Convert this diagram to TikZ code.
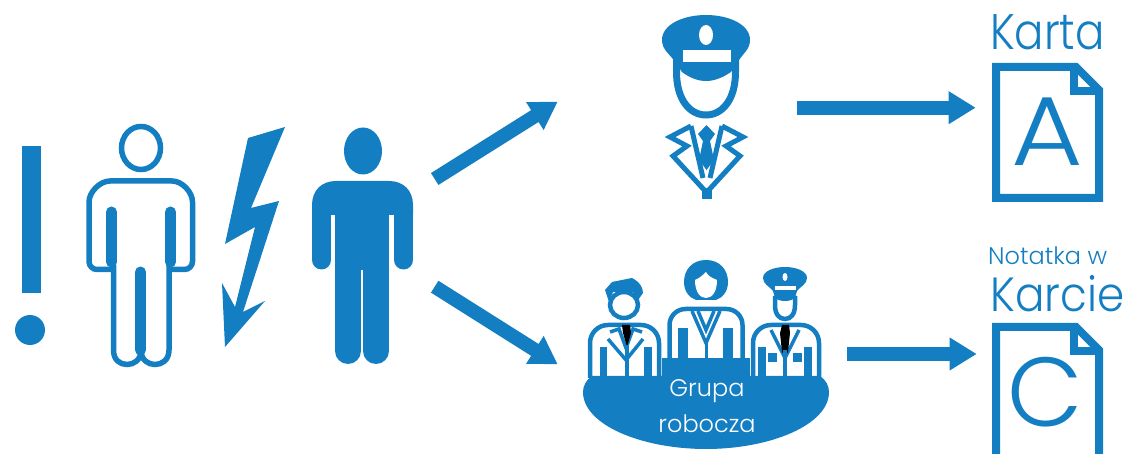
\documentclass[tikz,border=0pt]{standalone}
\usepackage{fontspec}
\setmainfont[UprightFont=* Light]{Poppins}
\usetikzlibrary{arrows.meta}
\definecolor{iconblue}{RGB}{20,126,194}
\tikzset{
  flow/.style={draw=iconblue,line width=14pt,-{Triangle[length=27pt,width=31pt]}},
  outline/.style={draw=iconblue,line width=#1,line join=miter},
  outline/.default=5.5pt,
  filled/.style={fill=iconblue,draw=none},
  bar/.style={draw=iconblue,line width=#1,line cap=round},
  title/.style={text=iconblue,anchor=base west,inner sep=0pt,font=\fontsize{#1}{#1}\selectfont},
  narrow/.style={xscale=#1,transform shape},
  letter/.style={text=iconblue,inner sep=0pt,font=\fontsize{98}{98}\selectfont},
  tablelabel/.style={text=white,anchor=base,inner sep=0pt,font=\fontsize{24}{24}\selectfont},
  docicon/.pic={
    \draw[outline=8pt] (996,67) -- (1076,67) -- (1099,90) -- (1099,198) -- (996,198) -- cycle;
    \draw[outline=8pt] (1074,67) -- (1074,91.5) -- (1099,91.5);
  }
}
\begin{document}
\begin{tikzpicture}[x=1pt,y=-1pt]
\clip (0,0) rectangle (1128,454);

% exclamation mark
\fill[filled] (22,146) rectangle (41,293);
\fill[filled] (30,330) circle (15);

% outlined man
\draw[outline] (141,148) ellipse [x radius=19.5,y radius=21.5];
\draw[outline,rounded corners=8pt] (113,269.5) -- (89,269.5) -- (89,210)
  .. controls (89,192) and (100,181) .. (118,181) -- (164,181)
  .. controls (182,181) and (192.5,192) .. (192.5,210) -- (192.5,269.5) -- (169,269.5);
\draw[outline] (113.5,265) -- (113.5,350) .. controls (113.5,360) and (120,364.5) .. (127,364.5)
  .. controls (134,364.5) and (141,360) .. (141,350) .. controls (141,360) and (148,364.5) .. (155,364.5)
  .. controls (162,364.5) and (169,360) .. (169,350) -- (169,265);
\draw[bar=11pt] (111.5,212) -- (111.5,262);
\draw[bar=11pt] (170.5,212) -- (170.5,262);
\draw[bar=11pt] (140.5,272) -- (140.5,350);

% lightning
\fill[filled] (285,127) -- (248,138) -- (225,244) -- (255,227) -- (235,307) -- (222,283)
  -- (225,347) -- (265,301) -- (243,312) -- (279,201) -- (251,208) -- cycle;

% filled man
\fill[filled] (363,151) ellipse [x radius=19,y radius=23.5];
\fill[filled] (312,215) -- (312,205) .. controls (312,190) and (322,181) .. (336,181) -- (389,181)
  .. controls (403,181) and (413,190) .. (413,205) -- (413,215) -- cycle;
\draw[bar=19pt] (321.5,210) -- (321.5,260);
\draw[bar=19pt] (403.5,210) -- (403.5,260);
\fill[filled] (335,200) rectangle (389,270);
\draw[bar=26pt] (348,260) -- (348,351);
\draw[bar=26pt] (376,260) -- (376,351);

% officer
\draw[outline=7pt] (676.5,60) -- (676.5,72) .. controls (676.5,100) and (690,115) .. (706,115)
  .. controls (722,115) and (735.5,100) .. (735.5,72) -- (735.5,60);
\fill[filled] (662,40) .. controls (662,24) and (684,15) .. (706,15) .. controls (728,15) and (750,24) .. (750,40)
  .. controls (750,50) and (742,54) .. (738,62) -- (731,72) .. controls (722,78) and (714,81) .. (706,81)
  .. controls (698,81) and (690,78) .. (682,72) -- (675,62) .. controls (670,54) and (662,50) .. (662,40) -- cycle;
\fill[white] (683,50) rectangle (731,62);
\fill[white] (706,35) ellipse [x radius=7,y radius=10];
\draw[outline=5pt] (691,126) -- (670,137) -- (687,146) -- (673,156) -- (707,193);
\draw[outline=5pt] (722,126) -- (743,137) -- (726,146) -- (740,156) -- (706,193);
\draw[outline=5pt] (691,126) -- (703,178);
\draw[outline=5pt] (722,126) -- (710,178);
\fill[filled] (706.5,125) -- (715,134) -- (710,141) -- (714,160) -- (706.5,170) -- (699,160) -- (703,141) -- (698,134) -- cycle;
\fill[filled] (702,188) rectangle (712,199);

% group: left person
\draw[outline=4.5pt] (624,305) ellipse [x radius=14,y radius=13];
\fill[filled] (605,290) -- (612,282) -- (632,278) .. controls (640,282) and (643,288) .. (643,293)
  -- (638,300) -- (633,292) -- (613,292) -- (609,302) -- cycle;
\draw[outline=4.5pt,rounded corners=18pt] (590,378) -- (590,325) -- (659,325) -- (659,378);
\draw[outline=3.5pt] (608,339) -- (626,360) -- (643,339);
\draw[outline=3.5pt] (610,332) -- (619,329) -- (626,348) -- (633,329) -- (642,332);
\fill[black] (622,325) -- (630,325) -- (631,333) -- (627,347) -- (623,333) -- cycle;
\fill[filled] (600,347) rectangle (607,378);
\fill[filled] (644,347) rectangle (652,378);
\fill[filled] (625,345) rectangle (629,378);

% group: middle person
\fill[filled] (706,260) .. controls (720,260) and (728,270) .. (728,282) .. controls (728,292) and (722,298) .. (716,300)
  -- (696,300) .. controls (690,298) and (684,292) .. (684,282) .. controls (684,270) and (692,260) .. (706,260) -- cycle;
\fill[white] (695,280) .. controls (700,278) and (704,274) .. (706,272) .. controls (708,276) and (712,278) .. (717,280)
  .. controls (717,292) and (712,298) .. (706,298) .. controls (700,298) and (695,292) .. (695,280) -- cycle;
\draw[outline=4.5pt,rounded corners=16pt] (669.5,362) -- (669.5,309) -- (742.5,309) -- (742.5,362);
\draw[outline=3.5pt] (692,311) -- (706,343) -- (720,311);
\draw[outline=3.5pt] (698,311) -- (706,330) -- (714,311);
\fill[filled] (704.5,340) rectangle (707.5,362);
\fill[filled] (678,328) rectangle (688,362);
\fill[filled] (723,328) rectangle (733,362);
\fill[filled] (662,358) rectangle (750,380);

% group: right person
\draw[outline=4.5pt] (775,296) -- (775,305) .. controls (775,314) and (779,319) .. (785,319)
  .. controls (791,319) and (795,314) .. (795,305) -- (795,296);
\fill[filled] (763,278) .. controls (763,271) and (774,267) .. (785,267) .. controls (796,267) and (807,271) .. (807,278)
  .. controls (807,284) and (801,286) .. (797,291) -- (795,298) .. controls (790,302) and (780,302) .. (775,298)
  -- (773,291) .. controls (769,286) and (763,284) .. (763,278) -- cycle;
\fill[white] (775,286) rectangle (796,290);
\fill[white] (785,277) ellipse [x radius=2.5,y radius=4];
\draw[outline=4.5pt,rounded corners=18pt] (753,378) -- (753,325) -- (819,325) -- (819,378);
\draw[outline=3.5pt] (771,330) -- (785,358) -- (799,330);
\fill[black] (782,325) -- (789,325) -- (790,333) -- (788,352) -- (785,356) -- (782,352) -- (780,333) -- cycle;
\fill[filled] (758,347) rectangle (766,378);
\fill[filled] (804,347) rectangle (812,378);
\fill[filled] (783,350) rectangle (787,378);
\fill[filled] (768,353) rectangle (777,362);
\fill[filled] (793,353) rectangle (802,362);

% table
\fill[filled] (592,376) -- (820,376) .. controls (826,380) and (829,386) .. (829,392)
  .. controls (829,425) and (770,449) .. (706,449) .. controls (642,449) and (583,425) .. (583,392)
  .. controls (583,386) and (586,380) .. (592,376) -- cycle;
\node[tablelabel] (grupa) at (707,397) {Grupa};
\node[tablelabel] (robocza) at (707,432) {robocza};

% documents
\pic {docicon};
\pic[yshift=-260pt] {docicon};
\node[letter,narrow=1.12] (lettera) at (1047,132) {A};
\node[letter] (letterc) at (1045,392) {C};
\node[title=50,narrow=.87] (karta) at (990,50) {Karta};
\node[title=24] (notatka) at (988,265) {Notatka w};
\node[title=48,narrow=.91] (karcie) at (990,312) {Karcie};

% arrows
\coordinate (workerup) at (434.7,179);
\coordinate (officerin) at (557.7,101.7);
\coordinate (workerdown) at (434.7,286.7);
\coordinate (groupin) at (557.7,364.3);
\coordinate (officerout) at (797,107.7);
\coordinate (kartain) at (975.7,107.7);
\coordinate (groupout) at (847,354);
\coordinate (notatkain) at (976.7,354);
\draw[flow] (workerup) -- (officerin);
\draw[flow] (workerdown) -- (groupin);
\draw[flow] (officerout) -- (kartain);
\draw[flow] (groupout) -- (notatkain);
\end{tikzpicture}
\end{document}
